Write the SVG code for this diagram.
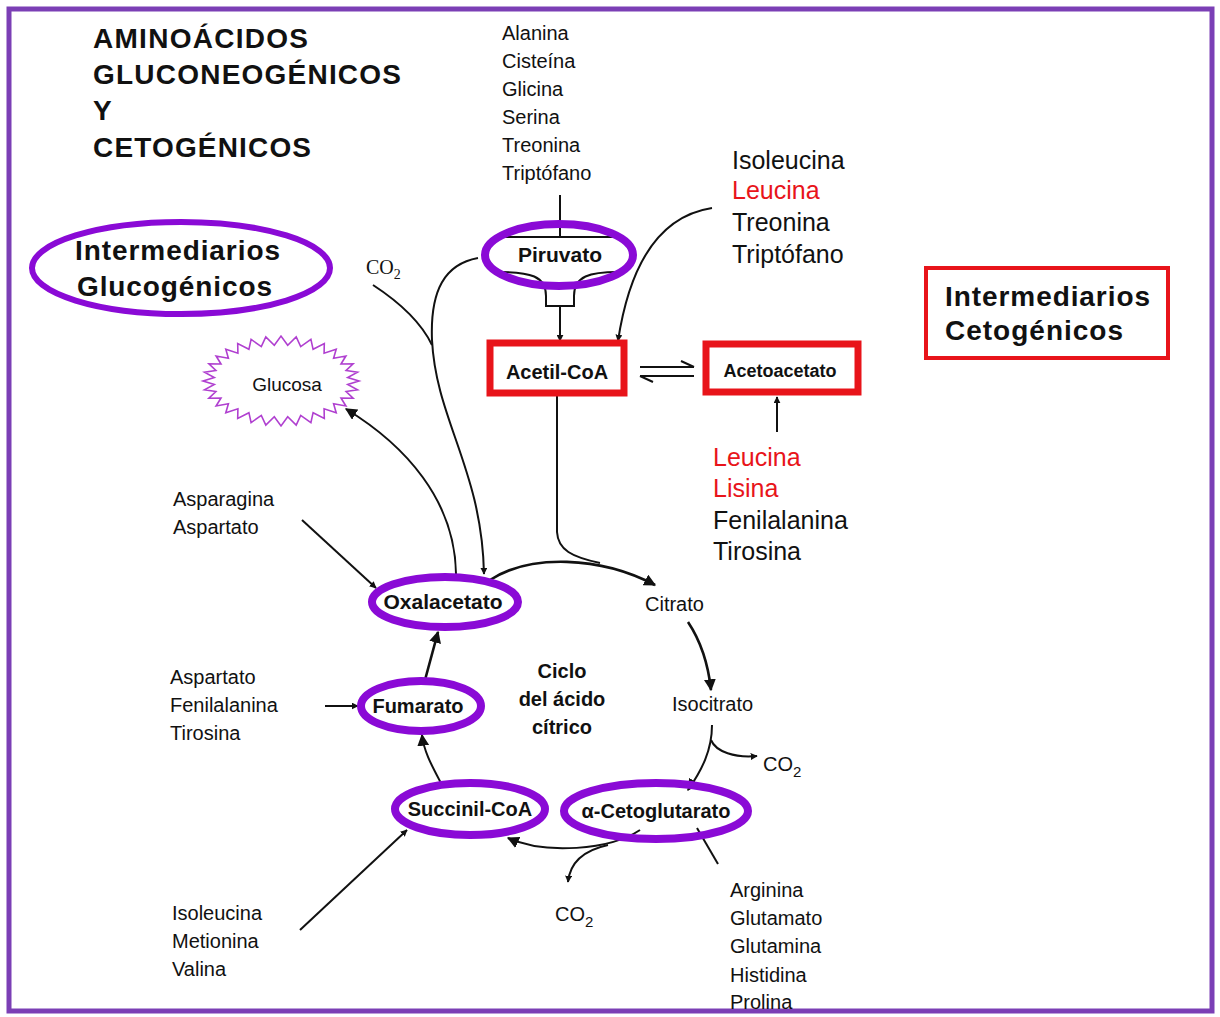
<svg xmlns="http://www.w3.org/2000/svg" width="1220" height="1017" viewBox="0 0 1220 1017">
<defs>
<marker id="arr" viewBox="0 0 10 10" refX="9" refY="5" markerWidth="7" markerHeight="7" markerUnits="userSpaceOnUse" orient="auto"><path d="M0,0 L10,5 L0,10 z" fill="#111"/></marker>
<marker id="arrB" viewBox="0 0 10 10" refX="9" refY="5" markerWidth="12" markerHeight="12" markerUnits="userSpaceOnUse" orient="auto"><path d="M0,0 L10,5 L0,10 z" fill="#111"/></marker>
<style>
text{font-family:"Liberation Sans",Arial,sans-serif;fill:#111}
.t{font-size:28px;font-weight:bold}
.s{font-size:20px}
.m{font-size:25px}
.r{fill:#e8141a}
.ci{font-size:20px;font-weight:bold;text-anchor:middle}
.pe{fill:none;stroke:#8a0ad6;stroke-width:8}
.rb{fill:none;stroke:#e8141a;stroke-width:7}
.c{fill:none;stroke:#111;stroke-width:2}
.cb{fill:none;stroke:#111;stroke-width:2.6}
</style>
</defs>
<rect x="0" y="0" width="1220" height="1017" fill="#fff"/>
<rect x="9" y="9" width="1203" height="1002" fill="none" stroke="#7b3fb5" stroke-width="5"/>

<g id="title">
<text class="t" x="93" y="48" textLength="215">AMINOÁCIDOS</text>
<text class="t" x="93" y="84" textLength="308">GLUCONEOGÉNICOS</text>
<text class="t" x="93" y="120">Y</text>
<text class="t" x="93" y="157" textLength="218">CETOGÉNICOS</text>
</g>

<g id="glucogenicos">
<ellipse cx="181" cy="268" rx="149" ry="46" fill="none" stroke="#8a0ad6" stroke-width="6"/>
<text class="t" x="75" y="260" textLength="205">Intermediarios</text>
<text class="t" x="77" y="296" textLength="195">Glucogénicos</text>
</g>

<g id="cetogenicos">
<rect x="926" y="268" width="242" height="90" fill="none" stroke="#e8141a" stroke-width="4"/>
<text class="t" x="945" y="306" textLength="205">Intermediarios</text>
<text class="t" x="945" y="340" textLength="178">Cetogénicos</text>
</g>

<g id="aa-piruvato">
<text class="s" x="502" y="40">Alanina</text>
<text class="s" x="502" y="68">Cisteína</text>
<text class="s" x="502" y="96">Glicina</text>
<text class="s" x="502" y="124">Serina</text>
<text class="s" x="502" y="152">Treonina</text>
<text class="s" x="502" y="180">Triptófano</text>
</g>

<g id="aa-acetilcoa">
<text class="m" x="732" y="169">Isoleucina</text>
<text class="m r" x="732" y="199">Leucina</text>
<text class="m" x="732" y="231">Treonina</text>
<text class="m" x="732" y="263">Triptófano</text>
</g>

<g id="aa-acetoacetato">
<text class="m r" x="713" y="466">Leucina</text>
<text class="m r" x="713" y="497">Lisina</text>
<text class="m" x="713" y="529">Fenilalanina</text>
<text class="m" x="713" y="560">Tirosina</text>
</g>

<g id="aa-oxalacetato">
<text class="s" x="173" y="506">Asparagina</text>
<text class="s" x="173" y="534">Aspartato</text>
</g>
<g id="aa-fumarato">
<text class="s" x="170" y="684">Aspartato</text>
<text class="s" x="170" y="712">Fenilalanina</text>
<text class="s" x="170" y="740">Tirosina</text>
</g>
<g id="aa-succinil">
<text class="s" x="172" y="920">Isoleucina</text>
<text class="s" x="172" y="948">Metionina</text>
<text class="s" x="172" y="976">Valina</text>
</g>
<g id="aa-cetoglutarato">
<text class="s" x="730" y="897">Arginina</text>
<text class="s" x="730" y="925">Glutamato</text>
<text class="s" x="730" y="953">Glutamina</text>
<text class="s" x="730" y="982">Histidina</text>
<text class="s" x="730" y="1009">Prolina</text>
</g>

<g id="connectors">
<path class="c" d="M560,195 L560,237"/>
<path class="c" d="M560,306 L560,341" marker-end="url(#arr)"/>
<path class="c" d="M712,208 C660,216 630,262 618,341" marker-end="url(#arr)"/>
<path class="c" d="M640,367 L694,367 M694,367 L681,361"/>
<path class="c" d="M640,376 L694,376 M640,376 L653,382"/>
<path class="c" d="M777,432 L777,397" marker-end="url(#arr)"/>
<path class="cb" d="M490,580 C530,554 600,556 655,585" marker-end="url(#arrB)"/>
<path class="c" d="M557,393 L557,532 C558,550 572,557 600,563"/>
<path class="cb" d="M688,622 C700,640 708,662 711,690" marker-end="url(#arrB)"/>
<path class="c" d="M712,725 C712,750 702,770 688,790" marker-end="url(#arrB)"/>
<path class="c" d="M711,740 C716,752 735,758 757,756" marker-end="url(#arr)"/>
<path class="c" d="M640,830 C610,850 545,855 508,838" marker-end="url(#arrB)"/>
<path class="c" d="M608,845 C585,850 570,862 568,882" marker-end="url(#arr)"/>
<path class="c" d="M697,828 L718,864"/>
<path class="c" d="M300,930 L407,830" marker-end="url(#arr)"/>
<path class="c" d="M442,785 C432,766 424,752 422,735" marker-end="url(#arrB)"/>
<path class="cb" d="M425,680 L438,632" marker-end="url(#arrB)"/>
<path class="c" d="M325,706 L358,706" marker-end="url(#arr)"/>
<path class="c" d="M302,520 L376,588" marker-end="url(#arr)"/>
<path class="c" d="M456,574 C455,500 405,445 346,409" marker-end="url(#arrB)"/>
<path class="c" d="M478,258 C445,264 430,290 432,340 C436,420 482,470 484,574" marker-end="url(#arr)"/>
<path class="c" d="M373,285 C396,300 420,320 432,345"/>
<text x="366" y="274" style="font-family:'Liberation Serif',serif;font-size:20px">CO<tspan dy="5" font-size="14">2</tspan></text>
<text class="s" x="763" y="771">CO<tspan dy="6" font-size="15">2</tspan></text>
<text class="s" x="555" y="921">CO<tspan dy="6" font-size="15">2</tspan></text>
</g>

<g id="glucosa">
<polygon fill="none" stroke="#b040d0" stroke-width="1.6" points="359,381 347.7,384.5 357.5,389.8 346.1,391.5 353.1,398.2 341,398 345.9,406 333.6,403.8 336.2,412.8 324.1,408.8 324.3,418.4 313.1,412.7 310.9,422.6 300.7,415.4 296.2,425.1 287.7,416.8 281,426 274.3,416.8 265.8,425.1 261.3,415.4 251.1,422.6 248.9,412.7 237.7,418.4 237.9,408.8 225.8,412.8 228.4,403.8 216.1,406 221,398 208.9,398.2 215.9,391.5 204.5,389.8 214.3,384.5 203,381 214.3,377.5 204.5,372.2 215.9,370.5 208.9,363.8 221,364 216.1,356 228.4,358.2 225.8,349.2 237.9,353.2 237.7,343.6 248.9,349.3 251.1,339.4 261.3,346.6 265.8,336.9 274.3,345.2 281,336 287.7,345.2 296.2,336.9 300.7,346.6 310.9,339.4 313.1,349.3 324.3,343.6 324.1,353.2 336.2,349.2 333.6,358.2 345.9,356 341,364 353.1,363.8 346.1,370.5 357.5,372.2 347.7,377.5"/>
<text x="287" y="391" text-anchor="middle" style="font-size:19px">Glucosa</text>
</g>

<g id="piruvato">
<path class="c" d="M501,237 L617,237"/>
<path class="c" d="M500,272 C530,272 546,276 546,296 M618,272 C590,272 574,276 574,296 M546,296 L546,306 L574,306 L574,296"/>
<ellipse class="pe" cx="559" cy="255" rx="74" ry="31"/>
<text class="ci" x="560" y="262" style="font-size:21px">Piruvato</text>
</g>

<g id="acetilcoa">
<rect class="rb" x="490" y="343" width="134" height="50"/>
<text class="ci" x="557" y="379" style="font-size:20px">Acetil-CoA</text>
</g>

<g id="acetoacetato">
<rect class="rb" x="706" y="344" width="152" height="48"/>
<text class="ci" x="780" y="377" style="font-size:18px">Acetoacetato</text>
</g>

<g id="oxalacetato">
<ellipse class="pe" cx="445" cy="602" rx="73" ry="25"/>
<text class="ci" x="443" y="609" style="font-size:21px">Oxalacetato</text>
</g>

<g id="fumarato">
<ellipse class="pe" cx="421" cy="706" rx="60" ry="25"/>
<text class="ci" x="418" y="713">Fumarato</text>
</g>

<g id="succinilcoa">
<ellipse class="pe" cx="470" cy="809" rx="75" ry="26"/>
<text class="ci" x="470" y="816">Succinil-CoA</text>
</g>

<g id="cetoglutarato">
<ellipse class="pe" cx="656" cy="811" rx="92" ry="28"/>
<text class="ci" x="656" y="818">α-Cetoglutarato</text>
</g>

<g id="citrato">
<text class="s" x="645" y="611">Citrato</text>
</g>
<g id="isocitrato">
<text class="s" x="672" y="711">Isocitrato</text>
</g>
<g id="ciclo">
<text class="ci" x="562" y="678">Ciclo</text>
<text class="ci" x="562" y="706">del ácido</text>
<text class="ci" x="562" y="734">cítrico</text>
</g>
</svg>
